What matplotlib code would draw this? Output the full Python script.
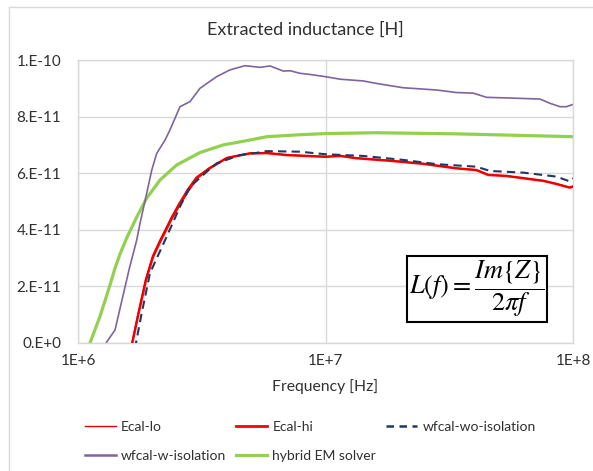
import matplotlib
matplotlib.use("Agg")
import matplotlib.pyplot as plt
from matplotlib.lines import Line2D

plt.rcParams['font.family'] = ['Lato', 'DejaVu Sans']
plt.rcParams['mathtext.fontset'] = 'stix'

# ---- data (frequency in Hz, inductance in H) ----
f_hyb = [1.097e6, 1.118e6, 1.227e6, 1.347e6, 1.411e6, 1.478e6, 1.573e6, 1.727e6, 1.895e6, 2.145e6,
         2.505e6, 3.111e6, 3.865e6, 4.804e6, 5.786e6, 7.88e6, 1.0e7, 1.6e7, 3.4e7, 1.0e8]
L_hyb = [-0.17e-11, 0.0, 0.94e-11, 2.05e-11, 2.64e-11, 3.14e-11, 3.71e-11, 4.45e-11, 5.12e-11, 5.76e-11,
         6.29e-11, 6.73e-11, 7.00e-11, 7.15e-11, 7.29e-11, 7.36e-11, 7.40e-11, 7.43e-11, 7.39e-11, 7.29e-11]

f_wiso = [1.274e6, 1.298e6, 1.411e6, 1.549e6, 1.612e6, 1.727e6, 1.781e6, 1.895e6, 1.986e6, 2.080e6,
          2.247e6, 2.353e6, 2.583e6, 2.835e6, 3.111e6, 3.63e6, 4.11e6, 4.73e6, 5.44e6, 5.97e6,
          6.75e6, 7.2e6, 7.88e6, 8.65e6, 1.0e7, 1.15e7, 1.42e7, 1.61e7, 2.06e7, 2.81e7,
          3.39e7, 3.95e7, 4.48e7, 5.40e7, 7.36e7, 8.07e7, 8.86e7, 9.4e7, 1.0e8]
L_wiso = [-0.17e-11, 0.0, 0.46e-11, 1.98e-11, 2.63e-11, 3.64e-11, 4.23e-11, 5.29e-11, 6.11e-11, 6.70e-11,
          7.17e-11, 7.53e-11, 8.35e-11, 8.53e-11, 9.00e-11, 9.41e-11, 9.65e-11, 9.80e-11, 9.74e-11, 9.79e-11,
          9.61e-11, 9.62e-11, 9.53e-11, 9.49e-11, 9.41e-11, 9.32e-11, 9.26e-11, 9.17e-11, 9.02e-11, 8.94e-11,
          8.85e-11, 8.83e-11, 8.68e-11, 8.66e-11, 8.62e-11, 8.47e-11, 8.35e-11, 8.35e-11, 8.43e-11]

f_hi = [1.637e6, 1.657e6, 1.752e6, 1.883e6, 2.009e6, 2.145e6, 2.268e6, 2.398e6, 2.583e6, 2.783e6,
        3.026e6, 3.415e6, 4.0e6, 4.95e6, 5.80e6, 6.99e6, 7.88e6, 1.0e7, 1.15e7, 1.33e7,
        1.82e7, 2.49e7, 3.39e7, 4.07e7, 4.54e7, 5.4e7, 7.58e7, 8.57e7, 9.7e7, 1.0e8]
L_hi = [-0.18e-11, 0.0, 1.00e-11, 2.23e-11, 3.04e-11, 3.57e-11, 3.99e-11, 4.42e-11, 4.91e-11, 5.37e-11,
        5.83e-11, 6.18e-11, 6.54e-11, 6.70e-11, 6.71e-11, 6.64e-11, 6.62e-11, 6.58e-11, 6.61e-11, 6.53e-11,
        6.44e-11, 6.33e-11, 6.17e-11, 6.11e-11, 5.94e-11, 5.90e-11, 5.73e-11, 5.62e-11, 5.49e-11, 5.53e-11]

f_lo = [1.630e6, 1.650e6, 1.745e6, 1.875e6, 2.000e6, 2.135e6, 2.255e6, 2.385e6, 2.560e6, 2.760e6,
        3.000e6, 3.400e6, 4.0e6, 4.95e6, 5.80e6, 6.99e6, 7.88e6, 1.0e7, 1.15e7, 1.33e7,
        1.82e7, 2.49e7, 3.39e7, 4.07e7, 4.54e7, 5.4e7, 7.58e7, 8.57e7, 9.7e7, 1.0e8]
L_lo = [-0.18e-11, 0.0, 1.02e-11, 2.26e-11, 3.08e-11, 3.62e-11, 4.03e-11, 4.46e-11, 4.95e-11, 5.42e-11,
        5.86e-11, 6.20e-11, 6.55e-11, 6.71e-11, 6.72e-11, 6.65e-11, 6.63e-11, 6.59e-11, 6.61e-11, 6.54e-11,
        6.45e-11, 6.34e-11, 6.18e-11, 6.12e-11, 5.95e-11, 5.91e-11, 5.74e-11, 5.63e-11, 5.50e-11, 5.54e-11]

f_wo = [1.694e6, 1.715e6, 1.809e6, 1.954e6, 2.282e6, 2.583e6, 2.835e6, 3.311e6, 3.635e6, 4.513e6,
        5.272e6, 5.78e6, 7.88e6, 1.0e7, 1.42e7, 2.06e7, 2.81e7, 4.07e7, 4.62e7, 6.3e7,
        8.57e7, 9.7e7, 1.0e8]
L_wo = [-0.2e-11, 0.0, 1.06e-11, 2.47e-11, 3.76e-11, 4.82e-11, 5.52e-11, 6.05e-11, 6.35e-11, 6.64e-11,
        6.72e-11, 6.78e-11, 6.76e-11, 6.67e-11, 6.61e-11, 6.47e-11, 6.32e-11, 6.23e-11, 6.08e-11, 6.02e-11,
        5.88e-11, 5.71e-11, 5.82e-11]

yticks = [0, 2e-11, 4e-11, 6e-11, 8e-11, 1e-10]
ytick_labels = ["0.E+0", "2.E-11", "4.E-11", "6.E-11", "8.E-11", "1.E-10"]
xticks = [1e6, 1e7, 1e8]
xtick_labels = ["1E+6", "1E+7", "1E+8"]

W, H = 593, 471
fig = plt.figure(figsize=(W / 100, H / 100), dpi=100)
ax = fig.add_axes([78 / W, 1 - 343 / H, (573 - 78) / W, (343 - 60) / H])

grid_c = '#d9d9d9'
txt_c = '#303030'
c_lo, c_hi, c_wo, c_wiso, c_hyb = '#e00000', '#ff0000', '#1f3864', '#7e64a0', '#92d050'
dash = (0, (4, 2.5))

ax.plot(f_hyb, L_hyb, color=c_hyb, lw=2.3, zorder=2)
ax.plot(f_wiso, L_wiso, color=c_wiso, lw=1.2, zorder=2)
ax.plot(f_hi, L_hi, color=c_hi, lw=1.8, zorder=3)
ax.plot(f_lo, L_lo, color=c_lo, lw=0.8, zorder=4)
ax.plot(f_wo, L_wo, color=c_wo, lw=1.5, ls=dash, zorder=5)

ax.set_xscale('log')
ax.set_xlim(1e6, 1e8)
ax.set_ylim(0, 1e-10)
ax.set_xticks(xticks)
ax.set_xticklabels(xtick_labels)
ax.minorticks_off()
ax.set_yticks(yticks)
ax.set_yticklabels(ytick_labels)
ax.tick_params(length=0, labelsize=11, colors=txt_c)
ax.tick_params(axis='x', pad=8)
ax.tick_params(axis='y', pad=12)
ax.grid(True, color=grid_c, lw=1)
ax.set_axisbelow(True)
for s in ax.spines.values():
    s.set_color(grid_c)
    s.set_linewidth(1)

ax.set_xlabel('Frequency [Hz]', fontsize=11.3, color=txt_c, labelpad=8)
fig.text(305 / W, 1 - 30 / H, 'Extracted inductance [H]', fontsize=13, color=txt_c,
         ha='center', va='center')

fig.text(477 / W, 1 - 289 / H, r'$L(f)=\dfrac{Im\{Z\}}{2\pi f}$', fontsize=19,
         ha='center', va='center',
         bbox=dict(boxstyle='square,pad=0.1', fc='white', ec='black', lw=1.5))

# legend (row-wise order in reference -> column-major for matplotlib)
h_lo = Line2D([], [], color=c_lo, lw=1.0)
h_hi = Line2D([], [], color=c_hi, lw=2.0)
h_wo = Line2D([], [], color=c_wo, lw=1.8, ls=(0, (3, 2.2)))
h_wiso = Line2D([], [], color=c_wiso, lw=1.8)
h_hyb = Line2D([], [], color=c_hyb, lw=2.3)
handles = [h_lo, h_wiso, h_hi, h_hyb, h_wo]
labels = ['Ecal-lo', 'wfcal-w-isolation', 'Ecal-hi', 'hybrid EM solver', 'wfcal-wo-isolation']
fig.legend(handles, labels, ncol=3, loc='upper left', bbox_to_anchor=(85 / W, 1 - 421 / H),
           frameon=False, fontsize=10, handlelength=2.2, handletextpad=0.38,
           columnspacing=0.75, labelspacing=1.2, labelcolor=txt_c, borderpad=0,
           borderaxespad=0)

# chart-area border
fig.add_artist(Line2D([9 / W, 1], [1 - 7 / H, 1 - 7 / H], color=grid_c, lw=1))
fig.add_artist(Line2D([9 / W, 9 / W], [0, 1 - 7 / H], color=grid_c, lw=1))

fig.savefig('out.png', dpi=100)
